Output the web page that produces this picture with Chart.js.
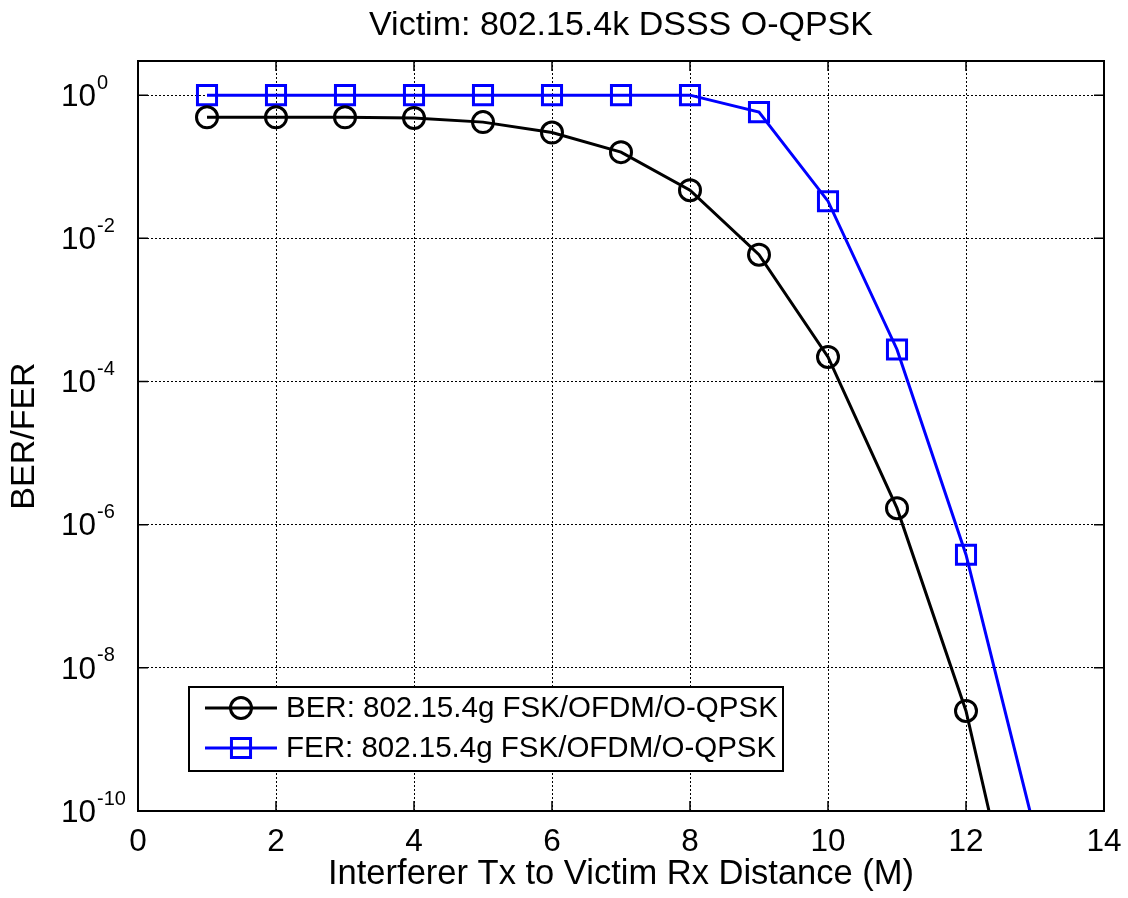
<!DOCTYPE html>
<html>
<head>
<meta charset="utf-8">
<script src="https://cdn.jsdelivr.net/npm/chart.js@4.4.1/dist/chart.umd.min.js"></script>
<style>
    html, body { margin: 0; padding: 0; background: #fff; }
    #wrap { width: 1128px; height: 898px; position: relative; }
</style>
</head>
<body>
<div id="wrap"><canvas id="berChart"></canvas></div>
<script>
// data
const distances = [1, 2, 3, 4, 5, 6, 7, 8, 9, 10, 11, 12, 13];
const berValues = [0.49, 0.49, 0.49, 0.48, 0.42, 0.30, 0.16, 0.047, 0.0059, 2.2e-4, 1.7e-6, 2.5e-9, 1.6e-13];
const ferValues = [1, 1, 1, 1, 1, 1, 1, 1, 0.58, 0.033, 2.8e-4, 3.8e-7, 5.2e-11];
const yTickValues = [1e-10, 1e-8, 1e-6, 1e-4, 1e-2, 1];
const xTickValues = [0, 2, 4, 6, 8, 10, 12, 14];

const titleText = "Victim: 802.15.4k DSSS O-QPSK";
const xTitle = "Interferer Tx to Victim Rx Distance (M)";
const yTitle = "BER/FER";
const berLabel = "BER: 802.15.4g FSK/OFDM/O-QPSK";
const ferLabel = "FER: 802.15.4g FSK/OFDM/O-QPSK";

const FONT = "'Liberation Sans', Arial, Helvetica, sans-serif";

/*
=====================================
MATLAB STYLE DECORATIONS
=====================================
*/

const matlabPlugin = {
    id: "matlabPlugin",
    afterDraw(chart) {
        const ctx = chart.ctx;
        const area = chart.chartArea;
        const xs = chart.scales.x;
        const ys = chart.scales.y;

        ctx.save();

        // axes box
        ctx.strokeStyle = "#000";
        ctx.lineWidth = 2;
        ctx.strokeRect(area.left, area.top, area.right - area.left, area.bottom - area.top);

        // inner ticks
        ctx.lineWidth = 1.5;
        ctx.beginPath();
        xs.ticks.forEach(t => {
            const px = xs.getPixelForValue(t.value);
            ctx.moveTo(px, area.bottom);
            ctx.lineTo(px, area.bottom - 10);
            ctx.moveTo(px, area.top);
            ctx.lineTo(px, area.top + 10);
        });
        ys.ticks.forEach(t => {
            const py = ys.getPixelForValue(t.value);
            ctx.moveTo(area.left, py);
            ctx.lineTo(area.left + 10, py);
            ctx.moveTo(area.right, py);
            ctx.lineTo(area.right - 10, py);
        });
        ctx.stroke();

        // y tick labels 10^n
        ctx.fillStyle = "#000";
        ys.ticks.forEach(t => {
            const py = ys.getPixelForValue(t.value);
            const exp = Math.round(Math.log10(t.value));
            ctx.font = "31.5px " + FONT;
            ctx.textAlign = "right";
            ctx.textBaseline = "middle";
            ctx.fillText("10", 96, py + 2);
            ctx.font = "20px " + FONT;
            ctx.textAlign = "left";
            ctx.fillText(String(exp), 97, py - 12);
        });

        // title
        ctx.font = "34px " + FONT;
        ctx.textAlign = "center";
        ctx.textBaseline = "middle";
        ctx.fillText(titleText, (area.left + area.right) / 2, 26);

        // legend
        const box = { left: 189, top: 687, right: 783, bottom: 771 };
        ctx.fillStyle = "#fff";
        ctx.fillRect(box.left, box.top, box.right - box.left, box.bottom - box.top);
        ctx.strokeStyle = "#000";
        ctx.lineWidth = 2;
        ctx.strokeRect(box.left, box.top, box.right - box.left, box.bottom - box.top);

        const rows = [708, 748];
        chart.data.datasets.forEach((ds, i) => {
            const y = rows[i];
            ctx.strokeStyle = ds.borderColor;
            ctx.lineWidth = 3;
            ctx.beginPath();
            ctx.moveTo(205, y);
            ctx.lineTo(277, y);
            ctx.stroke();
            ctx.lineWidth = ds.pointBorderWidth;
            ctx.fillStyle = "rgba(0,0,0,0)";
            Chart.helpers.drawPoint(ctx, {
                pointStyle: ds.pointStyle,
                radius: ds.pointRadius,
                borderWidth: ds.pointBorderWidth,
                rotation: 0
            }, 241, y);
            ctx.fillStyle = "#000";
            ctx.font = "29.5px " + FONT;
            ctx.textAlign = "left";
            ctx.textBaseline = "middle";
            ctx.fillText(ds.label, 286, y + 1);
        });

        ctx.restore();
    }
};

document.addEventListener("DOMContentLoaded", () => {

    const canvas = document.getElementById("berChart");

    new Chart(canvas, {
        type: "line",
        data: {
            labels: distances,
            datasets: [
                {
                    label: berLabel,
                    data: distances.map((d, i) => ({ x: d, y: berValues[i] })),
                    borderColor: "#000000",
                    borderWidth: 3,
                    pointStyle: "circle",
                    pointRadius: 10.5,
                    pointBorderWidth: 3,
                    pointBorderColor: "#000000",
                    pointBackgroundColor: "rgba(0,0,0,0)",
                    tension: 0
                },
                {
                    label: ferLabel,
                    data: distances.map((d, i) => ({ x: d, y: ferValues[i] })),
                    borderColor: "#0000ff",
                    borderWidth: 3,
                    pointStyle: "rect",
                    pointRadius: 13.5,
                    pointBorderWidth: 3,
                    pointBorderColor: "#0000ff",
                    pointBackgroundColor: "rgba(0,0,0,0)",
                    tension: 0
                }
            ]
        },
        options: {
            responsive: true,
            maintainAspectRatio: false,
            animation: false,
            layout: {
                padding: { top: 61, right: 24, left: 0, bottom: 0 }
            },
            plugins: {
                legend: { display: false },
                title: { display: false },
                tooltip: { enabled: false }
            },
            scales: {
                x: {
                    type: "linear",
                    min: 0,
                    max: 14,
                    afterBuildTicks: scale => {
                        scale.ticks = xTickValues.map(v => ({ value: v }));
                    },
                    afterFit: scale => {
                        scale.height = 87;
                        scale.paddingLeft = 0;
                        scale.paddingRight = 0;
                    },
                    ticks: {
                        color: "#000",
                        font: { family: FONT, size: 31.5 },
                        padding: 12,
                        maxRotation: 0
                    },
                    grid: {
                        color: "#000",
                        lineWidth: 1,
                        drawTicks: false
                    },
                    border: {
                        color: "#000",
                        width: 2,
                        dash: [2, 2]
                    },
                    title: {
                        display: true,
                        text: xTitle,
                        color: "#000",
                        font: { family: FONT, size: 34.5 },
                        padding: { top: 0, bottom: 3 }
                    }
                },
                y: {
                    type: "logarithmic",
                    min: 1e-10,
                    max: 3,
                    afterBuildTicks: scale => {
                        scale.ticks = yTickValues.map(v => ({ value: v }));
                    },
                    afterFit: scale => {
                        scale.width = 138;
                    },
                    ticks: {
                        display: false
                    },
                    grid: {
                        color: "#000",
                        lineWidth: 1,
                        drawTicks: false
                    },
                    border: {
                        color: "#000",
                        width: 2,
                        dash: [2, 2]
                    },
                    title: {
                        display: true,
                        text: yTitle,
                        color: "#000",
                        font: { family: FONT, size: 34 },
                        padding: { top: 4, bottom: 0 }
                    }
                }
            }
        },
        plugins: [matlabPlugin]
    });

});
</script>
</body>
</html>
